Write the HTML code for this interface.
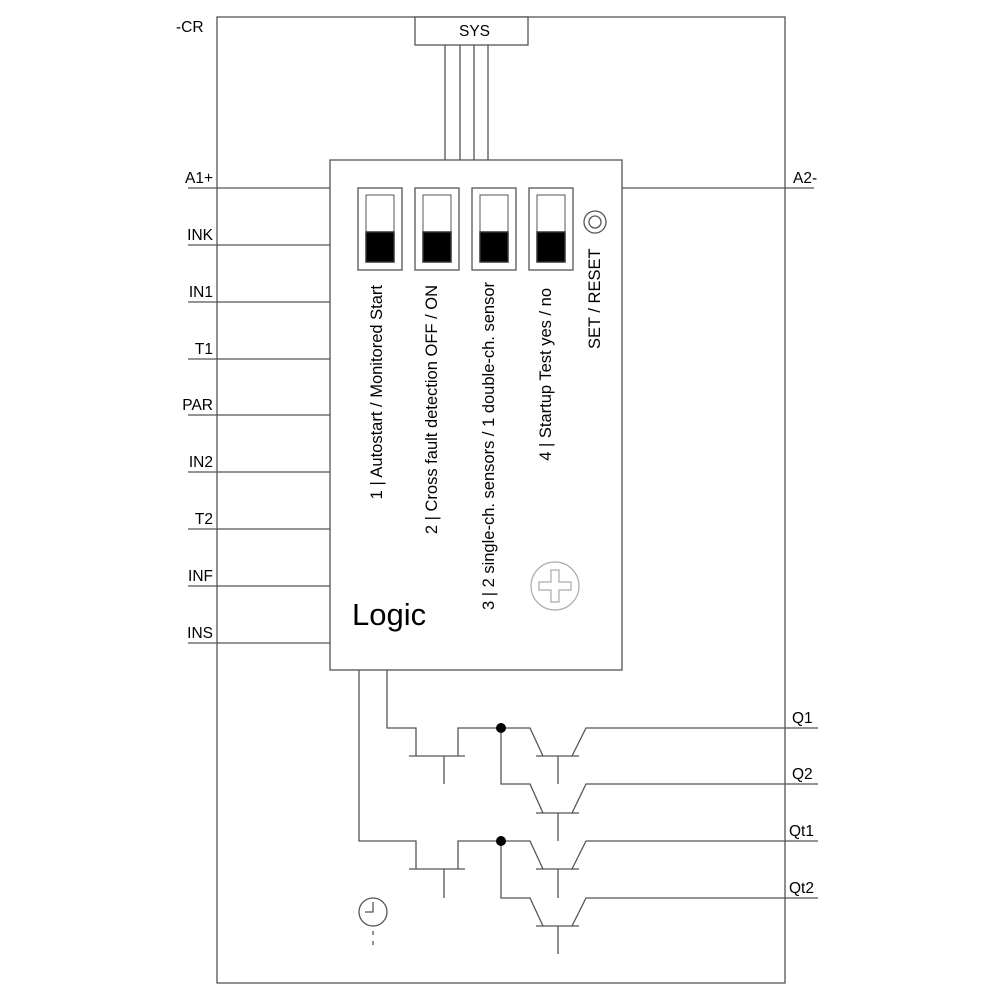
<!DOCTYPE html>
<html><head><style>html,body{margin:0;padding:0;background:#fff}</style></head><body>
<svg width="1000" height="1000" viewBox="0 0 1000 1000" xmlns="http://www.w3.org/2000/svg" font-family="Liberation Sans, Arial, sans-serif">
<g fill="none" stroke="#555" stroke-width="1.3">
<rect x="217" y="17" width="568" height="966"/>
<rect x="415" y="17" width="113" height="28" fill="#fff"/>
<line x1="445" y1="45" x2="445" y2="160"/><line x1="460" y1="45" x2="460" y2="160"/>
<line x1="474" y1="45" x2="474" y2="160"/><line x1="488" y1="45" x2="488" y2="160"/>
<rect x="330" y="160" width="292" height="510" fill="#fff"/>
<line x1="188" y1="188" x2="330" y2="188"/>
<line x1="188" y1="245" x2="330" y2="245"/>
<line x1="188" y1="302" x2="330" y2="302"/>
<line x1="188" y1="359" x2="330" y2="359"/>
<line x1="188" y1="415" x2="330" y2="415"/>
<line x1="188" y1="472" x2="330" y2="472"/>
<line x1="188" y1="529" x2="330" y2="529"/>
<line x1="188" y1="586" x2="330" y2="586"/>
<line x1="188" y1="643" x2="330" y2="643"/>
<line x1="622" y1="188" x2="814" y2="188"/>
<rect x="358" y="188" width="44" height="82"/><rect x="415" y="188" width="44" height="82"/>
<rect x="472" y="188" width="44" height="82"/><rect x="529" y="188" width="44" height="82"/>
<circle cx="595" cy="222" r="11"/><circle cx="595" cy="222" r="6"/>
<polyline points="387,670 387,728 416,728 416,756"/>
<line x1="409" y1="756" x2="465" y2="756"/><line x1="444" y1="756" x2="444" y2="784"/>
<polyline points="458,756 458,728 530,728 543,756"/>
<line x1="536" y1="756" x2="579" y2="756"/><line x1="558" y1="756" x2="558" y2="784"/>
<polyline points="572,756 586,728 818,728"/>
<polyline points="501,728 501,784 530,784 543,813"/>
<line x1="536" y1="813" x2="579" y2="813"/><line x1="558" y1="813" x2="558" y2="841"/>
<polyline points="572,813 586,784 818,784"/>
<polyline points="359,670 359,841 416,841 416,869"/>
<line x1="409" y1="869" x2="465" y2="869"/><line x1="444" y1="869" x2="444" y2="898"/>
<polyline points="458,869 458,841 530,841 543,869"/>
<line x1="536" y1="869" x2="579" y2="869"/><line x1="558" y1="869" x2="558" y2="898"/>
<polyline points="572,869 586,841 818,841"/>
<polyline points="501,841 501,898 530,898 543,926"/>
<line x1="536" y1="926" x2="579" y2="926"/><line x1="558" y1="926" x2="558" y2="954"/>
<polyline points="572,926 586,898 818,898"/>
<circle cx="373" cy="912" r="14"/>
<polyline points="365,912 373,912 373,902"/>
<line x1="373" y1="926" x2="373" y2="946" stroke-dasharray="4,6" stroke-dashoffset="-5"/>
</g>
<circle cx="501" cy="728" r="5" fill="#000"/><circle cx="501" cy="841" r="5" fill="#000"/>
<g fill="#fff" stroke="#555" stroke-width="1">
<rect x="366" y="195" width="28" height="37"/><rect x="423" y="195" width="28" height="37"/>
<rect x="480" y="195" width="28" height="37"/><rect x="537" y="195" width="28" height="37"/>
</g>
<g fill="#000" stroke="#333" stroke-width="1.5">
<rect x="366" y="232" width="28" height="30"/><rect x="423" y="232" width="28" height="30"/>
<rect x="480" y="232" width="28" height="30"/><rect x="537" y="232" width="28" height="30"/>
</g>
<g fill="none" stroke="#aaa" stroke-width="1.2">
<circle cx="555" cy="586" r="24"/>
<path d="M551,570 h8 v12 h12 v8 h-12 v12 h-8 v-12 h-12 v-8 h12 z"/>
</g>
<g font-size="15.5" fill="#000">
<text x="176" y="32">-CR</text>
<text x="459" y="36">SYS</text>
<text x="213" y="183" text-anchor="end">A1+</text>
<text x="213" y="240" text-anchor="end">INK</text>
<text x="213" y="297" text-anchor="end">IN1</text>
<text x="213" y="354" text-anchor="end">T1</text>
<text x="213" y="410" text-anchor="end">PAR</text>
<text x="213" y="467" text-anchor="end">IN2</text>
<text x="213" y="524" text-anchor="end">T2</text>
<text x="213" y="581" text-anchor="end">INF</text>
<text x="213" y="638" text-anchor="end">INS</text>
<text x="793" y="183">A2-</text>
<text x="792" y="723">Q1</text>
<text x="792" y="779">Q2</text>
<text x="789" y="836">Qt1</text>
<text x="789" y="893">Qt2</text>
<text transform="translate(382,285) rotate(-90)" text-anchor="end" font-size="16.5">1 | Autostart / Monitored Start</text>
<text transform="translate(437,285) rotate(-90)" text-anchor="end" font-size="16.5">2 | Cross fault detection OFF / ON</text>
<text transform="translate(494,282) rotate(-90)" text-anchor="end" font-size="16.5">3 | 2 single-ch. sensors / 1 double-ch. sensor</text>
<text transform="translate(551,288) rotate(-90)" text-anchor="end" font-size="16.5">4 | Startup Test yes / no</text>
<text transform="translate(600,349) rotate(-90)" font-size="16.5">SET / RESET</text>
<text x="352" y="625" font-size="31">Logic</text>
</g>
</svg>
</body></html>
